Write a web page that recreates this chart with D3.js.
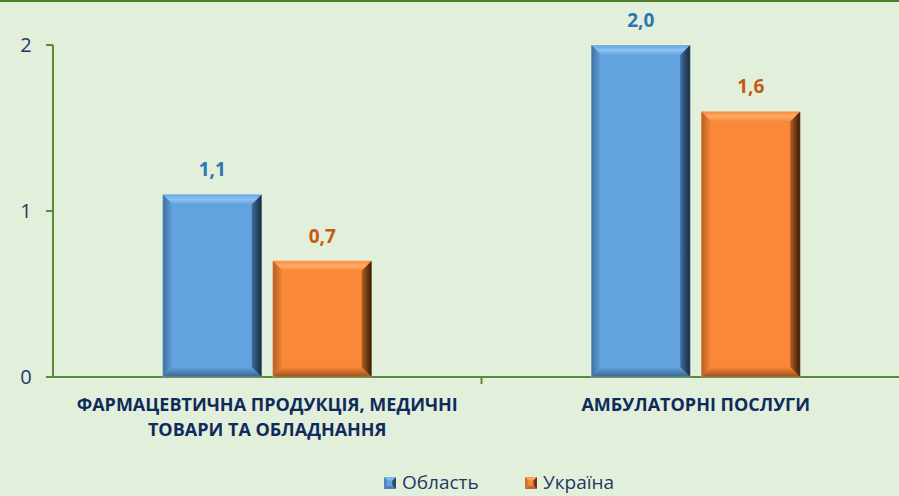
<!DOCTYPE html>
<html>
<head>
<meta charset="utf-8">
<script src="https://cdn.jsdelivr.net/npm/d3@7"></script>
<style>
	body { margin: 0; background: #e2efda; }
	svg { display: block; }
</style>
</head>
<body>
<div id="chart"></div>
<script>
	// chart data
	var categories = [["ФАРМАЦЕВТИЧНА ПРОДУКЦІЯ, МЕДИЧНІ", "ТОВАРИ ТА ОБЛАДНАННЯ"], ["АМБУЛАТОРНІ ПОСЛУГИ"]];
	var seriesNames = ["Область", "Україна"];
	var oblast = [1.1, 2.0];
	var ukraine = [0.7, 1.6];
	var yTicks = [0, 1, 2];

	var w = 899, h = 496;
	var svg = d3.select("#chart").append("svg").attr("width", w).attr("height", h);

	svg.append("rect").attr("width", w).attr("height", h).attr("fill", "#e2efda");
	svg.append("rect").attr("width", w).attr("height", 2).attr("fill", "#4f7f2e");

	var colors = [
		{ id: "b", base: "#62a3df", light: "#8cc3f0", dark: "#16273a", mid: "#3f6f9c", low: "#3a6590", text: "#2e75b6" },
		{ id: "o", base: "#f98838", light: "#ffac6a", dark: "#341a06", mid: "#b45d22", low: "#9a4f1c", text: "#c55a11" }
	];

	// gradients for the bevel sides
	var defs = svg.append("defs");
	colors.forEach(function(c) {
		var gr = defs.append("linearGradient").attr("id", "right-" + c.id).attr("x1", 0).attr("x2", 1).attr("y1", 0).attr("y2", 0);
		gr.append("stop").attr("offset", 0).attr("stop-color", c.mid);
		gr.append("stop").attr("offset", 1).attr("stop-color", c.dark);
		var gt = defs.append("linearGradient").attr("id", "top-" + c.id).attr("x1", 0).attr("x2", 0).attr("y1", 0).attr("y2", 1);
		gt.append("stop").attr("offset", 0).attr("stop-color", c.base);
		gt.append("stop").attr("offset", 0.5).attr("stop-color", c.light);
		gt.append("stop").attr("offset", 1).attr("stop-color", c.base);
		var gb = defs.append("linearGradient").attr("id", "bot-" + c.id).attr("x1", 0).attr("x2", 0).attr("y1", 0).attr("y2", 1);
		gb.append("stop").attr("offset", 0).attr("stop-color", c.base);
		gb.append("stop").attr("offset", 1).attr("stop-color", c.low);
		var gl = defs.append("linearGradient").attr("id", "left-" + c.id).attr("x1", 0).attr("x2", 1).attr("y1", 0).attr("y2", 0);
		gl.append("stop").attr("offset", 0).attr("stop-color", c.mid);
		gl.append("stop").attr("offset", 1).attr("stop-color", c.base);
	});

	var x0 = d3.scaleBand().domain(d3.range(categories.length)).range([53, 910]);
	var y = d3.scaleLinear().domain([0, 2]).range([377, 45]);
	var barW = 99, gap = 11;

	// axes
	var axisColor = "#5a8a36";
	svg.append("line").attr("x1", 53).attr("x2", 53).attr("y1", y(2)).attr("y2", y(0))
		.attr("stroke", axisColor).attr("stroke-width", 2);
	svg.append("line").attr("x1", 46).attr("x2", w).attr("y1", y(0)).attr("y2", y(0))
		.attr("stroke", axisColor).attr("stroke-width", 2);
	yTicks.forEach(function(t) {
		svg.append("line").attr("x1", 46).attr("x2", 53).attr("y1", y(t)).attr("y2", y(t))
			.attr("stroke", axisColor).attr("stroke-width", 2);
		svg.append("text").attr("x", 26).attr("y", y(t) + 7).attr("text-anchor", "middle")
			.attr("font-family", "Open Sans").attr("font-size", 20).attr("fill", "#1f3864").text(t);
	});
	svg.append("line").attr("x1", x0(1)).attr("x2", x0(1)).attr("y1", y(0)).attr("y2", y(0) + 7)
		.attr("stroke", axisColor).attr("stroke-width", 2);

	// bevelled bar
	function bar(g, x, top, bottom, bw, b, c) {
		var x1 = x + bw;
		g.append("rect").attr("x", x).attr("y", top).attr("width", bw).attr("height", bottom - top).attr("fill", c.base);
		g.append("polygon").attr("points", [[x, top], [x1, top], [x1 - b, top + b], [x + b, top + b]].join(" ")).attr("fill", "url(#top-" + c.id + ")");
		g.append("polygon").attr("points", [[x, bottom], [x1, bottom], [x1 - b, bottom - b], [x + b, bottom - b]].join(" ")).attr("fill", "url(#bot-" + c.id + ")");
		g.append("polygon").attr("points", [[x, top], [x + b, top + b], [x + b, bottom - b], [x, bottom]].join(" ")).attr("fill", "url(#left-" + c.id + ")");
		g.append("polygon").attr("points", [[x1, top], [x1, bottom], [x1 - b, bottom - b], [x1 - b, top + b]].join(" ")).attr("fill", "url(#right-" + c.id + ")");
		g.append("rect").attr("x", x).attr("y", top).attr("width", bw).attr("height", bottom - top)
			.attr("fill", "none").attr("stroke", "#ffffff").attr("stroke-opacity", 0.25).attr("stroke-width", 1);
	}

	var series = [oblast, ukraine];
	categories.forEach(function(cat, i) {
		var center = x0(i) + x0.bandwidth() / 2;
		var start = center - (2 * barW + gap) / 2;
		series.forEach(function(vals, s) {
			var bx = start + s * (barW + gap);
			bar(svg.append("g"), bx, y(vals[i]), y(0), barW, 10, colors[s]);
			svg.append("text").attr("x", bx + barW / 2).attr("y", y(vals[i]) - 18)
				.attr("text-anchor", "middle").attr("font-family", "Open Sans").attr("font-weight", "bold")
				.attr("font-size", 19).attr("fill", colors[s].text)
				.text(d3.format(".1f")(vals[i]).replace(".", ","));
		});
		cat.forEach(function(line, k) {
			svg.append("text").attr("x", center).attr("y", 411 + k * 25).attr("text-anchor", "middle")
				.attr("font-family", "Open Sans").attr("font-weight", "bold").attr("font-size", 18)
				.attr("fill", "#0f2a5c").text(line);
		});
	});

	// legend
	var legendX = [384, 525];
	seriesNames.forEach(function(name, s) {
		var lx = legendX[s];
		bar(svg.append("g"), lx, 477, 489, 12, 4, colors[s]);
		svg.append("text").attr("x", lx + 18).attr("y", 489).attr("font-family", "Open Sans")
			.attr("font-size", 19).attr("fill", "#1f3864").text(name);
	});
</script>
</body>
</html>
